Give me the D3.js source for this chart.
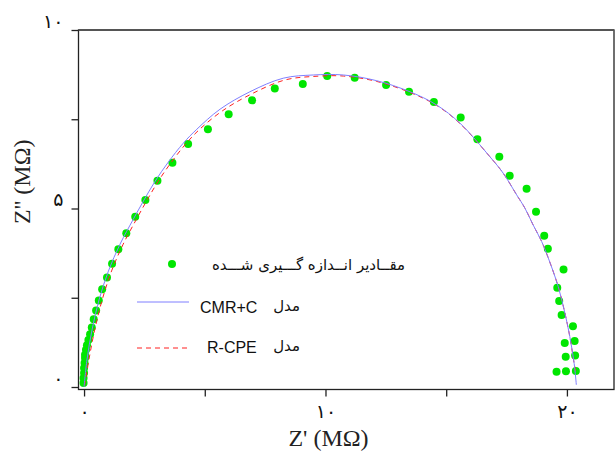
<!DOCTYPE html>
<html>
<head>
<meta charset="utf-8">
<script src="https://cdn.jsdelivr.net/npm/d3@7"></script>
<style>
  html, body { margin: 0; padding: 0; background: #fff; }
  svg { display: block; }
</style>
</head>
<body>
<svg id="chart" width="615" height="452"></svg>
<script>
// ---------- data ----------
const measuredX = [-0.02, -0.02, 0.00, 0.00, 0.02, 0.04, 0.04, 0.08, 0.12, 0.18, 0.25, 0.32, 0.40, 0.50, 0.61, 0.75, 0.95, 1.16, 1.42, 1.75, 2.12, 2.54, 3.04, 3.66, 4.31, 5.13, 5.99, 6.96, 7.90, 9.06, 10.07, 11.21, 12.51, 13.46, 14.49, 15.60, 16.29, 17.20, 17.63, 18.33, 18.72, 19.06, 19.21, 19.86, 19.60, 19.68, 19.78, 20.25, 20.32, 19.91, 20.34, 19.95, 20.37, 19.96, 19.57];
const measuredY = [0.11, 0.25, 0.39, 0.53, 0.67, 0.81, 0.90, 1.04, 1.17, 1.32, 1.48, 1.67, 1.90, 2.14, 2.42, 2.74, 3.07, 3.45, 3.86, 4.31, 4.77, 5.24, 5.78, 6.28, 6.81, 7.22, 7.64, 8.03, 8.36, 8.49, 8.71, 8.66, 8.46, 8.27, 7.98, 7.55, 6.94, 6.45, 5.92, 5.55, 4.91, 4.24, 3.87, 3.29, 2.78, 2.41, 2.02, 1.70, 1.29, 1.23, 0.88, 0.85, 0.45, 0.44, 0.43];

const cmrX = [0.00, 0.12, 0.33, 0.62, 1.01, 1.49, 2.04, 2.46, 2.94, 3.49, 4.11, 4.67, 5.63, 6.87, 8.25, 9.50, 10.74, 12.12, 13.50, 14.60, 15.57, 16.81, 17.36, 17.92, 18.26, 18.60, 18.95, 19.23, 19.64, 19.92, 20.12, 20.30, 20.39];
const cmrY = [0.00, 0.76, 1.60, 2.44, 3.25, 4.00, 4.70, 5.21, 5.76, 6.30, 6.83, 7.22, 7.78, 8.27, 8.65, 8.74, 8.74, 8.58, 8.27, 7.90, 7.39, 6.45, 5.99, 5.38, 5.01, 4.54, 4.08, 3.61, 2.81, 2.06, 1.41, 0.66, 0.06];

const cpeX = [0.02, 0.20, 0.44, 0.75, 1.14, 1.62, 2.17, 2.59, 3.07, 3.62, 4.24, 4.79, 5.74, 6.97, 8.32, 9.52, 10.74, 12.12, 13.50, 14.60, 15.57, 16.81, 17.36, 17.92, 18.26, 18.60, 18.95, 19.23, 19.64, 19.92, 20.12, 20.30, 20.37];
const cpeY = [0.03, 0.76, 1.60, 2.44, 3.25, 4.00, 4.70, 5.21, 5.76, 6.30, 6.83, 7.22, 7.74, 8.22, 8.60, 8.70, 8.71, 8.56, 8.25, 7.89, 7.38, 6.45, 5.99, 5.38, 5.01, 4.54, 4.08, 3.61, 2.81, 2.06, 1.41, 0.66, 0.42];

const xTicks = [0, 5, 10, 15, 20];
const xTickLabels = {0: "۰", 10: "۱۰", 20: "۲۰"};
const yTicks = [0, 2.5, 5, 7.5, 10];
const yTickLabels = {0: "۰", 5: "۵", 10: "۱۰"};

const xTitle = "Z' (MΩ)";
const yTitle = "Z'' (MΩ)";
const legendMeasured = "مقــادیر انــدازه گـــیری شـــده";
const legendModelWord = "مدل";
const legendCmr = "CMR+C";
const legendCpe = "R-CPE";

// ---------- layout ----------
const svg = d3.select("#chart");
const L = 78.5, R = 614, T = 30, B = 389.5;

const x = d3.scaleLinear().domain([-0.23, 21.95]).range([L, R]);
const y = d3.scaleLinear().domain([-0.07, 10]).range([B, T]);

// frame
svg.append("rect")
  .attr("x", L).attr("y", T).attr("width", R - L).attr("height", B - T)
  .attr("fill", "none").attr("stroke", "#222").attr("stroke-width", 1.3);
svg.append("line").attr("x1", L).attr("x2", R).attr("y1", T).attr("y2", T)
  .attr("stroke", "#555").attr("stroke-width", 2);

// axes
const serif = "'Liberation Serif', 'Times New Roman', serif";
const digitFont = "'DejaVu Sans', sans-serif";

const xAxis = d3.axisBottom(x).tickValues(xTicks).tickSize(7)
  .tickFormat(d => xTickLabels[d] || "");
const gx = svg.append("g").attr("transform", `translate(0,${B})`).call(xAxis);
gx.select(".domain").remove();
gx.selectAll(".tick line").attr("stroke", "#222").attr("stroke-width", 1.3);
gx.selectAll(".tick text").attr("font-family", digitFont).attr("font-size", 19)
  .attr("fill", "#111").attr("y", 15).attr("dy", "0.71em");

const yAxis = d3.axisLeft(y).tickValues(yTicks).tickSize(7)
  .tickFormat(d => yTickLabels[d] || "");
const gy = svg.append("g").attr("transform", `translate(${L},0)`).call(yAxis);
gy.select(".domain").remove();
gy.selectAll(".tick line").attr("stroke", "#222").attr("stroke-width", 1.3);
gy.selectAll(".tick text").attr("font-family", digitFont).attr("font-size", 19)
  .attr("fill", "#111").attr("x", -15).attr("dy", "-0.15em");

// titles
svg.append("text").attr("x", (x(0) + x(20)) / 2 + 3).attr("y", 446)
  .attr("text-anchor", "middle").attr("font-family", serif).attr("font-size", 24)
  .attr("fill", "#222").text(xTitle);
svg.append("text").attr("transform", `translate(30,${(T + B) / 2 - 28}) rotate(-90)`)
  .attr("text-anchor", "middle").attr("font-family", serif).attr("font-size", 24)
  .attr("fill", "#222").text(yTitle);

// curves
const cmr = cmrX.map((v, i) => [v, cmrY[i]]);
const cpe = cpeX.map((v, i) => [v, cpeY[i]]);
const meas = measuredX.map((v, i) => [v, measuredY[i]]);

const line = d3.line().x(d => x(d[0])).y(d => y(d[1])).curve(d3.curveCatmullRom.alpha(0.5));

// points
svg.append("g").selectAll("circle").data(meas).join("circle")
  .attr("cx", d => x(d[0])).attr("cy", d => y(d[1])).attr("r", 4)
  .attr("fill", "#00e600");

svg.append("path").datum(cpe).attr("d", line).attr("fill", "none")
  .attr("stroke", "#ff2020").attr("stroke-width", 1).attr("stroke-dasharray", "5,4");
svg.append("path").datum(cmr).attr("d", line).attr("fill", "none")
  .attr("stroke", "#7f7fff").attr("stroke-width", 1);

// legend
const arabicFont = "'DejaVu Sans', sans-serif";
const lg = svg.append("g");
lg.append("circle").attr("cx", 172).attr("cy", 264).attr("r", 4).attr("fill", "#00e600");
lg.append("text").attr("x", 405).attr("y", 270).attr("text-anchor", "end")
  .attr("font-family", arabicFont).attr("font-size", 15).attr("fill", "#111")
  .text(legendMeasured);

lg.append("line").attr("x1", 137).attr("x2", 189).attr("y1", 302).attr("y2", 302)
  .attr("stroke", "#7f7fff").attr("stroke-width", 1);
lg.append("text").attr("x", 200).attr("y", 313).attr("font-family", "'Liberation Sans', Arial, sans-serif")
  .attr("font-size", 16).attr("fill", "#111").text(legendCmr);
lg.append("text").attr("x", 300).attr("y", 311).attr("text-anchor", "end")
  .attr("font-family", arabicFont).attr("font-size", 15).attr("fill", "#111")
  .text(legendModelWord);

lg.append("line").attr("x1", 137).attr("x2", 189).attr("y1", 348).attr("y2", 348)
  .attr("stroke", "#ff2020").attr("stroke-width", 1).attr("stroke-dasharray", "5,4");
lg.append("text").attr("x", 207).attr("y", 353).attr("font-family", "'Liberation Sans', Arial, sans-serif")
  .attr("font-size", 16).attr("fill", "#111").text(legendCpe);
lg.append("text").attr("x", 300).attr("y", 351).attr("text-anchor", "end")
  .attr("font-family", arabicFont).attr("font-size", 15).attr("fill", "#111")
  .text(legendModelWord);
</script>
</body>
</html>
